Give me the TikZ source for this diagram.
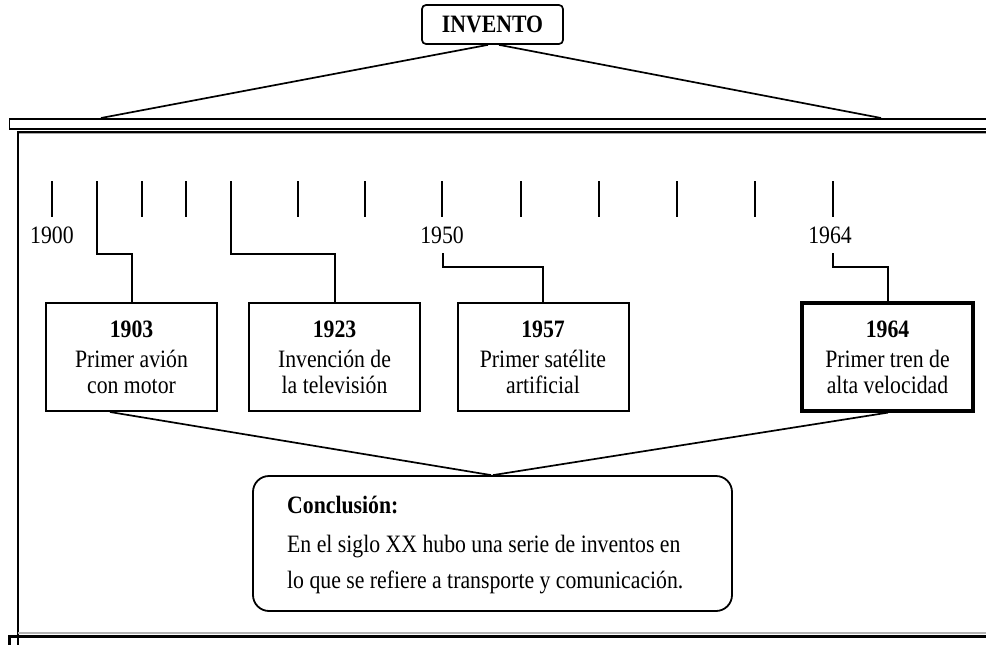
\documentclass[tikz,border=0pt]{standalone}
\usepackage{fontspec}
\setmainfont{Liberation Serif}[FakeStretch=0.87]
\begin{document}
\begin{tikzpicture}[x=1pt,y=-1pt,
  txt/.style={font=\fontsize{25}{26}\selectfont},
  yearbox/.style={draw, line width=2pt, minimum width=171pt, minimum height=108pt,
    align=center, inner sep=0pt, txt},
  tickline/.style={line width=2pt},
  conn/.style={line width=2pt},
  thinconn/.style={line width=1.7pt},
  lbl/.style={txt, anchor=base, inner sep=0pt},
  ctext/.style={txt, anchor=base west, inner sep=0pt}]
\useasboundingbox (0,0) rectangle (986,645);

% top invention box
\node[draw, rounded corners=4pt, line width=1.7pt, minimum width=141pt, minimum height=39pt,
  inner sep=0pt, font=\fontsize{25}{26}\selectfont\bfseries] (inv) at (492.5,24.5) {INVENTO};
\coordinate (barL) at (101,118);
\coordinate (barR) at (881,118);
\draw[thinconn] ([xshift=-4.5pt]inv.south) -- (barL);
\draw[thinconn] ([xshift=6.5pt]inv.south) -- (barR);

% top bar and frame
\draw[line width=1.8pt] (9.5,119) rectangle (1000,129);
\draw[gray!70, line width=2.8pt] (18,1000) -- (18,132.5) -- (1000,132.5);
\draw[line width=1.4pt] (18,1000) -- (18,132) -- (1000,132);
\draw[gray!60, line width=1.5pt] (18,633) -- (1000,633);
\draw[line width=3pt] (9.5,660) -- (9.5,636.5) -- (1000,636.5);

% ticks
\foreach \x/\n in {52/t0,142/t2,186/t3,298/t5,365/t6,442/t7,521/t8,599/t9,677/t10,755/t11,833/t12}{
  \coordinate (\n a) at (\x,181);
  \coordinate (\n b) at (\x,217);
  \draw[tickline] (\n a) -- (\n b);
}
\coordinate (t1) at (97,181);
\coordinate (t4) at (231,181);

% year labels
\node[lbl] (l1900) at (52,243) {1900};
\node[lbl] (l1950) at (442,243) {1950};
\node[lbl] (l1964) at (830,243) {1964};

% event boxes
\node[yearbox] (b1) at (131.5,357) {\textbf{1903}\\[4pt]Primer avión\\con motor};
\node[yearbox] (b2) at (334.5,357) {\textbf{1923}\\[4pt]Invención de\\la televisión};
\node[yearbox] (b3) at (543,357) {\textbf{1957}\\[4pt]Primer satélite\\artificial};
\node[yearbox, line width=3.2pt] (b4) at (887.5,357) {\textbf{1964}\\[4pt]Primer tren de\\alta velocidad};

% connectors from timeline to boxes
\draw[conn] (t1) -- (97,254) -| (b1.north);
\draw[conn] (t4) -- (231,254) -| (b2.north);
\coordinate (s3) at (443,253);
\coordinate (s4) at (833,253);
\draw[conn] (s3) -- (443,267) -| (b3.north);
\draw[conn] (s4) -- (833,267) -| (b4.north);

% conclusion
\node[draw, rounded corners=16pt, line width=1.8pt, minimum width=479pt, minimum height=135pt,
  inner sep=0pt] (c) at (492.5,543.5) {};
\draw[thinconn] ([xshift=-21.5pt]b1.south) -- ([xshift=-1.5pt]c.north);
\draw[thinconn] ([xshift=0.5pt]b4.south) -- ([xshift=0.5pt]c.north);
\node[ctext, font=\fontsize{25}{26}\selectfont\bfseries] (c1) at (287,513) {Conclusión:};
\node[ctext] (c2) at (287,552) {En el siglo XX hubo una serie de inventos en};
\node[ctext] (c3) at (287,588) {lo que se refiere a transporte y comunicación.};
\end{tikzpicture}
\end{document}
